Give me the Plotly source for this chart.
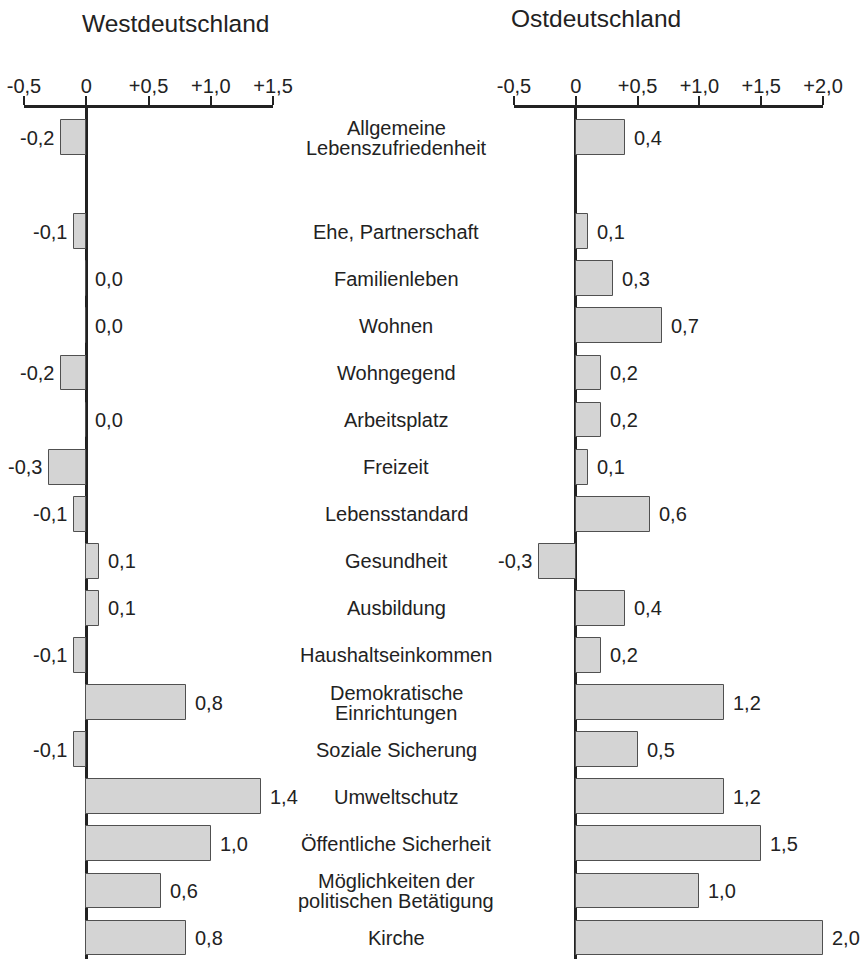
import plotly.graph_objects as go

categories = [
    "Allgemeine<br>Lebenszufriedenheit",
    "Ehe, Partnerschaft",
    "Familienleben",
    "Wohnen",
    "Wohngegend",
    "Arbeitsplatz",
    "Freizeit",
    "Lebensstandard",
    "Gesundheit",
    "Ausbildung",
    "Haushaltseinkommen",
    "Demokratische<br>Einrichtungen",
    "Soziale Sicherung",
    "Umweltschutz",
    "Öffentliche Sicherheit",
    "Möglichkeiten der<br>politischen Betätigung",
    "Kirche",
]
west = [-0.2, -0.1, 0.0, 0.0, -0.2, 0.0, -0.3, -0.1, 0.1, 0.1, -0.1, 0.8, -0.1, 1.4, 1.0, 0.6, 0.8]
east = [0.4, 0.1, 0.3, 0.7, 0.2, 0.2, 0.1, 0.6, -0.3, 0.4, 0.2, 1.2, 0.5, 1.2, 1.5, 1.0, 2.0]

west_ticks = [-0.5, 0, 0.5, 1.0, 1.5]
west_ticktext = ["-0,5", "0", "+0,5", "+1,0", "+1,5"]
east_ticks = [-0.5, 0, 0.5, 1.0, 1.5, 2.0]
east_ticktext = ["-0,5", "0", "+0,5", "+1,0", "+1,5", "+2,0"]

titles = ["Westdeutschland", "Ostdeutschland"]

W, H = 861, 959
TOP = 108
FONT = "Liberation Sans, Arial, sans-serif"
TXT = "#222222"

def sx(px):  # page x -> paper fraction
    return px / W

# slot positions: empty slot after the first row
ypos = [0] + list(range(2, 2 + len(categories) - 1))

def fmt(v):
    return f"{v:.1f}".replace(".", ",")

fig = go.Figure()
bar_style = dict(marker=dict(color="#d4d4d4", line=dict(color="#505050", width=1)),
                 orientation="h", width=0.74, showlegend=False, hoverinfo="skip")
fig.add_trace(go.Bar(x=west, y=ypos, xaxis="x", yaxis="y", **bar_style))
fig.add_trace(go.Bar(x=east, y=ypos, xaxis="x2", yaxis="y2", **bar_style))

annotations = []
for vals, xr in ((west, "x"), (east, "x2")):
    for v, y in zip(vals, ypos):
        if v < 0:
            annotations.append(dict(x=v, y=y, xref=xr, yref="y", text=fmt(v), showarrow=False,
                                    xanchor="right", yanchor="middle", xshift=-5,
                                    font=dict(family=FONT, size=20, color=TXT)))
        else:
            annotations.append(dict(x=v, y=y, xref=xr, yref="y", text=fmt(v), showarrow=False,
                                    xanchor="left", yanchor="middle", xshift=7,
                                    font=dict(family=FONT, size=20, color=TXT)))

cx = sx(396)
for cat, y in zip(categories, ypos):
    lines = cat.split("<br>")
    if len(lines) == 1:
        annotations.append(dict(x=cx, y=y, xref="paper", yref="y", text=lines[0], showarrow=False,
                                xanchor="center", yanchor="middle",
                                font=dict(family=FONT, size=20, color=TXT)))
    else:
        for k, ln in enumerate(lines):
            annotations.append(dict(x=cx, y=y, xref="paper", yref="y", text=ln, showarrow=False,
                                    xanchor="center", yanchor="middle", yshift=10 - 20 * k,
                                    font=dict(family=FONT, size=20, color=TXT)))

plot_h = H - TOP
for t, px, py in ((titles[0], 176, 23), (titles[1], 596, 19)):
    annotations.append(dict(x=sx(px), y=(H - py) / plot_h, xref="paper", yref="paper", text=t,
                            showarrow=False, xanchor="center", yanchor="middle",
                            font=dict(family=FONT, size=24.5, color=TXT)))

axis_common = dict(side="top", showline=True, linecolor="#222222", linewidth=2.5,
                   ticks="outside", ticklen=9, tickwidth=2, tickcolor="#222222",
                   showgrid=False, zeroline=True, zerolinecolor="#222222", zerolinewidth=2.5,
                   layer="above traces", tickfont=dict(family=FONT, size=20, color=TXT),
                   ticklabeloverflow="allow", ticklabelstandoff=-5,
                   fixedrange=True, automargin=False)

n_slots = ypos[-1]
plot_px = H - TOP
pitch = 47.09
top_slots = 29.5 / pitch
bottom_slots = (plot_px - 29.5) / pitch - n_slots
yrange = [n_slots + bottom_slots, -top_slots]

fig.update_layout(
    width=W, height=H, autosize=False,
    margin=dict(l=0, r=0, t=TOP, b=0, pad=0),
    paper_bgcolor="white", plot_bgcolor="white",
    xaxis=dict(domain=[sx(24), sx(273)], range=[-0.5, 1.5], tickvals=west_ticks,
               ticktext=west_ticktext, anchor="y", **axis_common),
    xaxis2=dict(domain=[sx(514), sx(823)], range=[-0.5, 2.0], tickvals=east_ticks,
                ticktext=east_ticktext, anchor="y2", **axis_common),
    yaxis=dict(domain=[0, 1], range=yrange, visible=False, anchor="x", fixedrange=True, automargin=False),
    yaxis2=dict(domain=[0, 1], range=yrange, visible=False, anchor="x2", matches="y",
                fixedrange=True, automargin=False),
    annotations=annotations,
    bargap=0,
)

fig.write_html("out.html", config={"displayModeBar": False},
               post_script="document.body.style.margin='0';document.body.style.overflow='hidden';")
